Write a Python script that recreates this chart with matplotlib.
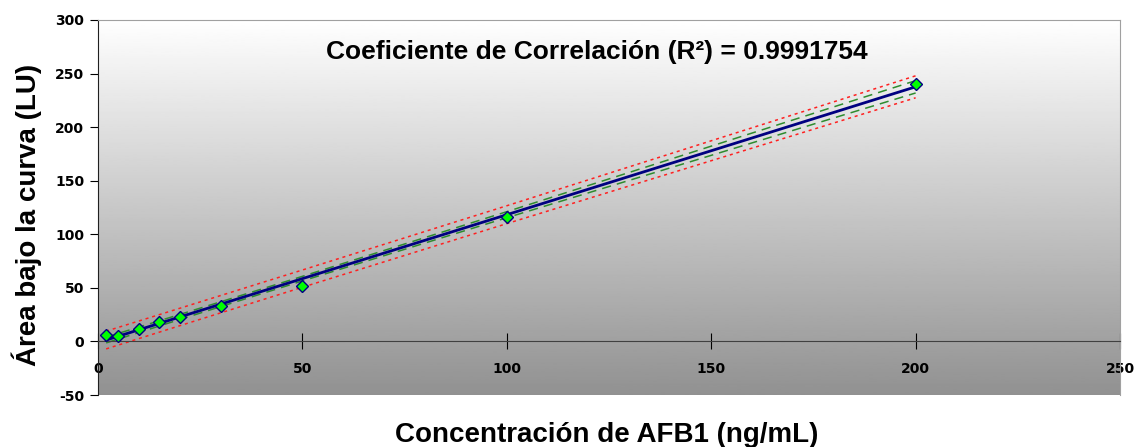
import numpy as np
import matplotlib
matplotlib.use('Agg')
import matplotlib.pyplot as plt

plt.rcParams['font.family'] = ['Liberation Sans', 'DejaVu Sans']
plt.rcParams['font.weight'] = 'bold'
plt.rcParams['axes.unicode_minus'] = False

# Calibration standards for AFB1
conc = np.array([2, 5, 10, 15, 20, 30, 50, 100, 200])
area = np.array([5.9, 5.0, 11.9, 18.4, 23.1, 33.0, 52.0, 116.5, 240.2])
r2_text = '0.9991754'

xticks = [0, 50, 100, 150, 200, 250]
yticks = [-50, 0, 50, 100, 150, 200, 250, 300]

# linear least squares fit with confidence / prediction bands
n = len(conc)
slope, intercept = np.polyfit(conc, area, 1)
fit = slope * conc + intercept
s = np.sqrt(np.sum((area - fit) ** 2) / (n - 2))
sxx = np.sum((conc - conc.mean()) ** 2)
t = 2.365  # t(0.975, 7 df)
conf = t * s * np.sqrt(1 / n + (conc - conc.mean()) ** 2 / sxx) * 0.8
pred = t * s * np.sqrt(1 + 1 / n + (conc - conc.mean()) ** 2 / sxx) * 0.95

fig = plt.figure(figsize=(11.34, 4.47), dpi=100)
ax = fig.add_axes([0.0864, 0.1163, 0.9013, 0.839])
ax.set_xlim(0, 250)
ax.set_ylim(-50, 300)

# white-to-grey vertical gradient behind the data
grad = np.linspace(0.57, 1.0, 256).reshape(-1, 1)
ax.imshow(grad, cmap='gray', vmin=0, vmax=1, aspect='auto', origin='lower',
          extent=[0, 1, 0, 1], transform=ax.transAxes, zorder=0)

ax.plot(conc, fit + pred, color='#ff2020', ls=(0, (2, 2.5)), lw=1.1, zorder=2)
ax.plot(conc, fit - pred, color='#ff2020', ls=(0, (2, 2.5)), lw=1.1, zorder=2)
ax.plot(conc, fit + conf, color='#2e8b2e', ls=(0, (6, 4)), lw=1.1, zorder=2)
ax.plot(conc, fit - conf, color='#2e8b2e', ls=(0, (6, 4)), lw=1.1, zorder=2)
ax.plot(conc, fit, color='#000080', lw=2, zorder=3)
ax.plot(conc, area, ls='none', marker='D', ms=6, mfc='#00ff00',
        mec='#000080', mew=1, zorder=4)

ax.text(0.488, 0.915, 'Coeficiente de Correlación (R²) = ' + r2_text,
        transform=ax.transAxes, ha='center', va='center', fontsize=19,
        fontweight='bold')

ax.spines['bottom'].set_position(('data', 0))
ax.spines['bottom'].set_color('#404040')
ax.spines['left'].set_color('#202020')
ax.spines['top'].set_color('#a0a0a0')
ax.spines['right'].set_color('#a0a0a0')
ax.set_xticks(xticks)
ax.set_yticks(yticks)
ax.tick_params(axis='x', direction='inout', length=12, pad=9)
ax.tick_params(axis='y', direction='out', length=6, pad=4)
for lab in ax.get_xticklabels() + ax.get_yticklabels():
    lab.set_family('DejaVu Sans')
    lab.set_fontsize(10)
    lab.set_fontweight('bold')

fig.text(0.535, 0.027, 'Concentración de AFB1 (ng/mL)', ha='center',
         va='center', fontsize=20, fontweight='bold')
fig.text(0.024, 0.519, 'Área bajo la curva (LU)', ha='center', va='center',
         rotation=90, fontsize=20, fontweight='bold')

fig.savefig('out.png', dpi=100)
